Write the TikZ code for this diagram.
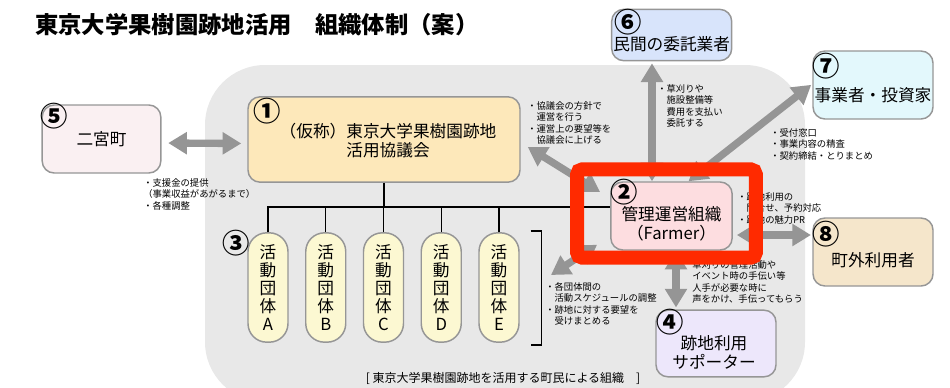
\documentclass[tikz,border=0pt]{standalone}
\usepackage{fontspec}
\setmainfont{Noto Sans CJK JP}
\usepackage{tikz}
\usetikzlibrary{calc}
\usetikzlibrary{arrows.meta}

\definecolor{bggray}{HTML}{E8E8E8}
\definecolor{arrgray}{HTML}{959595}
\definecolor{boxline}{HTML}{969696}
\definecolor{redframe}{HTML}{FF2A00}
\definecolor{c1}{HTML}{FDE8BA}
\definecolor{c2}{HTML}{FDDDE0}
\definecolor{c3}{HTML}{FCF8D2}
\definecolor{c4}{HTML}{EDE7FB}
\definecolor{c5}{HTML}{FAF0F2}
\definecolor{c6}{HTML}{D8E4FB}
\definecolor{c7}{HTML}{E3F8FC}
\definecolor{c8}{HTML}{F5E6CB}

\begin{document}
\begin{tikzpicture}[x=0.75pt,y=0.75pt,yscale=-1,xscale=1,
  box/.style={draw=boxline, line width=1.1pt, rounded corners=9pt, inner sep=0pt,
    font=\fontsize{12.5pt}{15pt}\selectfont, align=center},
  grp/.style={box, fill=c3, rounded corners=14pt, minimum width=30pt, minimum height=82pt,
    font=\fontsize{12.5pt}{13.5pt}\selectfont},
  lbl/.style={font=\fontsize{12.5pt}{14.5pt}\selectfont, align=center, inner sep=0pt},
  num/.style={font=\fontsize{20.5pt}{20.5pt}\selectfont\bfseries, inner sep=0pt},
  note/.style={font=\fontsize{7pt}{8.6pt}\selectfont, align=left, anchor=north west, inner sep=0pt},
  ttl/.style={font=\fontsize{17.5pt}{20pt}\selectfont\bfseries, inner sep=0pt},
  dblarr/.style={draw=arrgray, line width=5.5pt, {Triangle[length=14pt,width=16pt]}-{Triangle[length=14pt,width=16pt]}},
  link/.style={line width=1pt},
  redbox/.style={draw=redframe, line width=10.5pt, rounded corners=4pt}]
\useasboundingbox (0,0) rectangle (950,387);
%Shape: Rounded Rect [background]
\fill[bggray, rounded corners=45pt] (205,65) rectangle (805,402);

%Title
\node[ttl, anchor=west] (title) at (35,25) {東京大学果樹園跡地活用　組織体制（案）};

%Shape: Rounded Rect [5]
\node[box, fill=c5, minimum width=89pt, minimum height=51pt] (n5) at (101.5,139) {二宮町};
\node[num] (l5) at ($(n5.north west)+(13,12)$) {⑤};
%Shape: Rounded Rect [1]
\node[box, fill=c1, minimum width=204pt, minimum height=64pt] (n1) at (384,139.5) {};
\node[lbl, align=left] (t1) at ($(n1)+(4,1)$) {（仮称）東京大学果樹園跡地\\\phantom{（仮称）}活用協議会};
\node[num] (l1) at ($(n1.north west)+(20,15)$) {①};
%Shape: Rounded Rect [6]
\node[box, fill=c6, minimum width=90pt, minimum height=38.5pt] (n6) at (671.7,35) {};
\node[lbl] (t6) at ($(n6)+(0,9.5)$) {民間の委託業者};
\node[num] (l6) at ($(n6.north west)+(17,14)$) {⑥};
%Shape: Rounded Rect [7]
\node[box, fill=c7, minimum width=90pt, minimum height=51pt] (n7) at (873,85) {};
\node[lbl] (t7) at ($(n7)+(0,10)$) {事業者・投資家};
\node[num] (l7) at ($(n7.north west)+(14,16)$) {⑦};
%Shape: Rounded Rect [2]
\node[box, fill=c2, minimum width=91pt, minimum height=51pt] (n2) at (671.5,216) {};
\node[lbl] (t2) at ($(n2)+(0,8)$) {管理運営組織\\（Farmer）};
\node[num] (l2) at ($(n2.north west)+(14,11)$) {②};
%Shape: Rounded Rect [8]
\node[box, fill=c8, minimum width=90pt, minimum height=51pt] (n8) at (873,252) {};
\node[lbl] (t8) at ($(n8)+(0,8)$) {町外利用者};
\node[num] (l8) at ($(n8.north west)+(14,17)$) {⑧};
%Shape: Rounded Rect [4]
\node[box, fill=c4, minimum width=90pt, minimum height=50pt] (n4) at (716,343.5) {};
\node[lbl] (t4) at ($(n4)+(-2,9)$) {跡地利用\\サポーター};
\node[num] (l4) at ($(n4.north west)+(15,13)$) {④};

%Activity groups [3]
\foreach \g/\x in {A/268, B/325.75, C/383.5, D/441.25, E/499}
  \node[grp] (g\g) at (\x,287.5) {活\\動\\団\\体\\\g};
\node[num] (l3) at (236,243) {③};

%Tree
\draw[link] (n1.south) -- ++(0,25) coordinate (jn);
\draw[link] (gA.north) |- ($(n2.west)+(0,-9)$);
\foreach \g in {gB,gC,gD,gE}
  \draw[link] (\g.north) -- (\g.north |- jn);
%Bracket
\draw[link] ($(gE.north east)+(11,-1)$) -| ($(gE.south east)+(22,2)$) -- ($(gE.south east)+(11,2)$);

%Notes
\node[note] (t51) at (143,178) {・支援金の提供\\（事業収益があがるまで）\\・各種調整};
\node[note] (t12) at (527,101) {・協議会の方針で\\\phantom{・}運営を行う\\・運営上の要望等を\\\phantom{・}協議会に上げる};
\node[note] (t26) at (657,84) {・草刈りや\\\phantom{・}施設整備等\\\phantom{・}費用を支払い\\\phantom{・}委託する};
\node[note] (t27) at (770,128) {・受付窓口\\・事業内容の精査\\・契約締結・とりまとめ};
\node[note] (t28) at (737,192) {・跡地利用の\\\phantom{・}問合せ、予約対応\\・跡地の魅力PR};
\node[note] (t24) at (692,260) {草刈りの管理活動や\\イベント時の手伝い等\\人手が必要な時に\\声をかけ、手伝ってもらう};
\node[note] (t23) at (545,282) {・各団体間の\\\phantom{・}活動スケジュールの調整\\・跡地に対する要望を\\\phantom{・}受けまとめる};
\node[font=\fontsize{9pt}{10pt}\selectfont, inner sep=0pt] (cap) at (503,378) {[ 東京大学果樹園跡地を活用する町民による組織　]};

%Arrows
\draw[dblarr, shorten <=5pt, shorten >=4.5pt] ($(n5.east)+(0,4)$) -- ($(n1.west)+(0,4)$);
\draw[dblarr, shorten <=1.5pt] ($(n6.south)+(-19.7,0)$) -- ($(n2.north)+(-19.5,0)$);
\draw[dblarr] ($(n1.east)+(7,7.5)$) -- ($(n2.west)+(-10,-24)$);
\draw[dblarr, shorten >=1pt] ($(n2.north)+(17,0)$) -- ($(n7.west)+(0,-1)$);
\draw[dblarr, shorten <=3pt, shorten >=1pt] ($(n2.east)+(0,19)$) -- ($(n8.west)+(0,-17)$);
\draw[dblarr, shorten >=1.5pt] ($(n2.south)+(4.5,0)$) -- ($(n4.north)+(-40,0)$);
\draw[dblarr] ($(n2.south west)+(-13,-6)$) -- ($(t23.north west)+(6,-7)$);

%Highlight
\draw[redbox] ($(n2.north west)+(-33,-12)$) rectangle ($(n2.south east)+(23,7)$);
\end{tikzpicture}
\end{document}
